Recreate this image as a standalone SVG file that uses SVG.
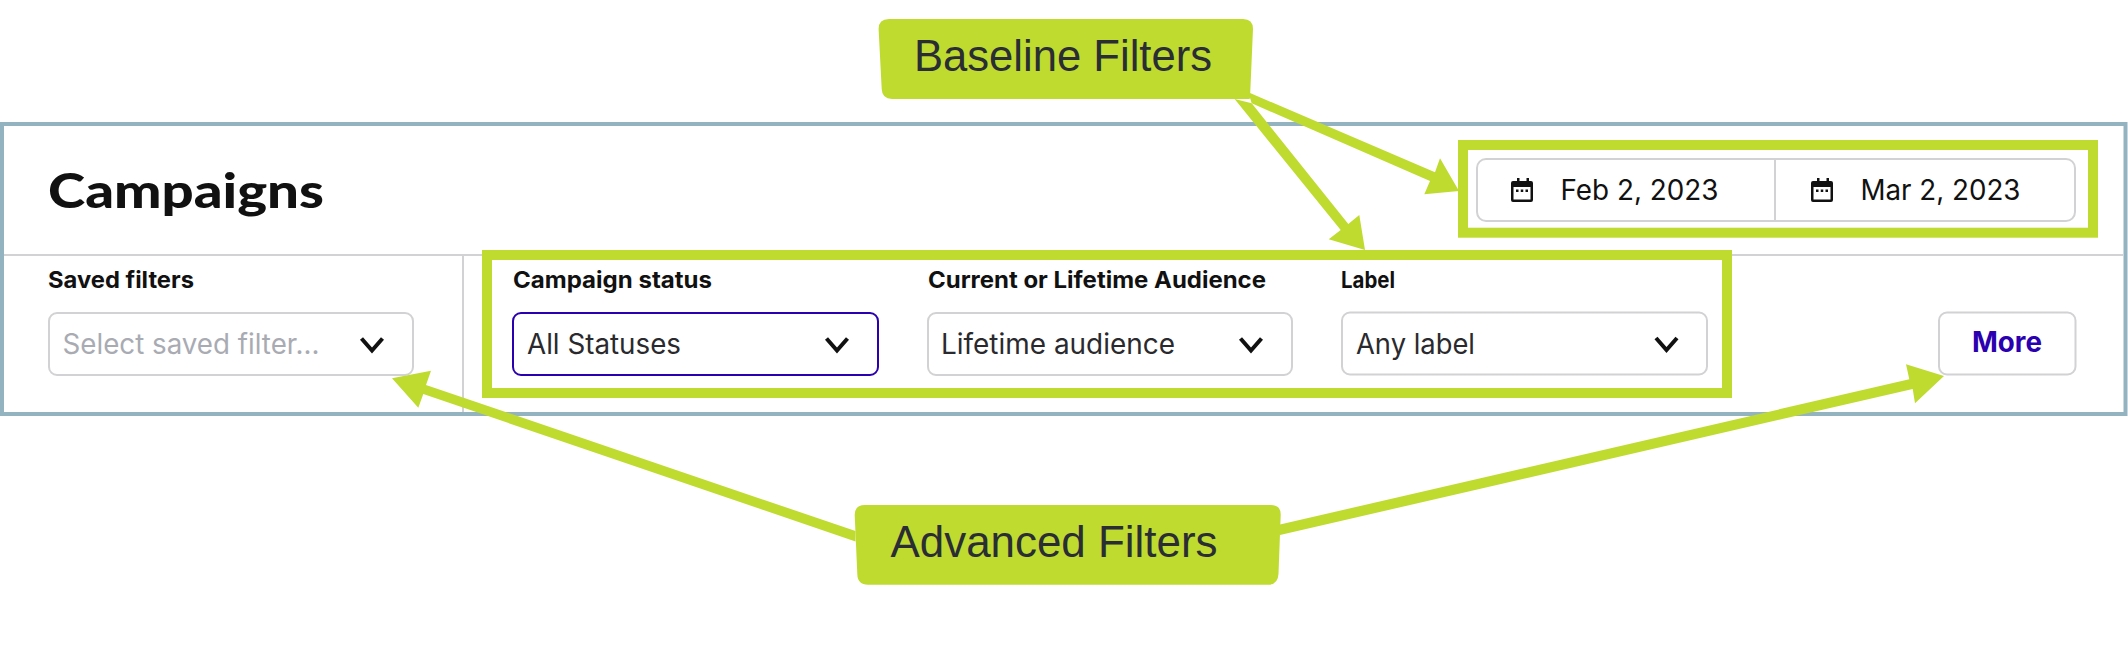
<svg xmlns="http://www.w3.org/2000/svg" width="2128" height="654" viewBox="0 0 2128 654">
<style>
.field{fill:#fff;stroke:#d2d2d4;stroke-width:2}
.rule{stroke:#d2d2d4;stroke-width:2;fill:none}
.lbl{font:700 23px Inter,"Liberation Sans",sans-serif;fill:#111}
.val{font:400 28px Inter,"Liberation Sans",sans-serif;fill:#2a2a2e}
.chev{fill:none;stroke:#111;stroke-width:4}
.hl{fill:none;stroke:#bfdb30;stroke-width:10}
.call{fill:#bfdb30;stroke:#bfdb30;stroke-width:2;stroke-linejoin:round}
.calltxt{font:400 45px "Liberation Sans",Arial,sans-serif;fill:#2a2d34}
.conn{fill:#bfdb30}
.ic{fill:#111}
</style>
<defs>
<g id="cal">
<path class="ic" d="M4 3h3V0h2.500v3h7V0H19v3h2a2 2 0 0 1 2 2v17a2 2 0 0 1-2 2H3a2 2 0 0 1-2-2V5a2 2 0 0 1 2-2z"/>
<rect x="3.500" y="9" width="17" height="12.500" fill="#fff"/>
<rect x="6" y="11.500" width="2.500" height="2.500" class="ic"/><rect x="10.750" y="11.500" width="2.500" height="2.500" class="ic"/><rect x="15.500" y="11.500" width="2.500" height="2.500" class="ic"/>
</g>
<path id="ch" class="chev" d="M-10.500-6 0 6 10.500-6"/>
</defs>
<rect width="2128" height="654" fill="#fff"/>
<g id="panel">
<rect x="2" y="124" width="2123.500" height="290" fill="#fff" stroke="#93b3c0" stroke-width="4"/>
<path class="rule" d="M4 255H2123M463 255V412"/>
<text x="48" y="207.500" textLength="276" lengthAdjust="spacingAndGlyphs" style="font:900 48px Lato,'Liberation Sans',sans-serif;fill:#111">Campaigns</text>
</g>
<g id="date-range">
<rect class="field" x="1477" y="159" width="598" height="62" rx="9"/>
<path class="rule" d="M1775 159V221"/>
<use href="#cal" x="1510" y="178"/>
<text class="val" x="1560.500" y="199.500" textLength="158" lengthAdjust="spacingAndGlyphs" style="fill:#111">Feb 2, 2023</text>
<use href="#cal" x="1810" y="178"/>
<text class="val" x="1860.500" y="199.500" textLength="160" lengthAdjust="spacingAndGlyphs" style="fill:#111">Mar 2, 2023</text>
</g>
<g id="saved-filters">
<text class="lbl" x="48" y="287.500" textLength="146" lengthAdjust="spacingAndGlyphs">Saved filters</text>
<rect class="field" x="49" y="313" width="364" height="62" rx="8"/>
<text class="val" x="62.500" y="354" textLength="257" lengthAdjust="spacingAndGlyphs" style="fill:#a9abb3">Select saved filter...</text>
<use href="#ch" x="372" y="344.500"/>
</g>
<g id="campaign-status">
<text class="lbl" x="513" y="287.500" textLength="199" lengthAdjust="spacingAndGlyphs">Campaign status</text>
<rect x="513" y="313" width="365" height="62" rx="8" fill="#fff" stroke="#2b00b0" stroke-width="2"/>
<text class="val" x="527" y="354" textLength="154" lengthAdjust="spacingAndGlyphs">All Statuses</text>
<use href="#ch" x="837" y="344.500"/>
</g>
<g id="audience">
<text class="lbl" x="928" y="287.500" textLength="338" lengthAdjust="spacingAndGlyphs">Current or Lifetime Audience</text>
<rect class="field" x="928" y="313" width="364" height="62" rx="8"/>
<text class="val" x="941" y="354" textLength="234" lengthAdjust="spacingAndGlyphs">Lifetime audience</text>
<use href="#ch" x="1251" y="344.500"/>
</g>
<g id="label">
<text class="lbl" x="1341" y="287.500" textLength="54" lengthAdjust="spacingAndGlyphs">Label</text>
<rect class="field" x="1342" y="312.500" width="365" height="62" rx="8"/>
<text class="val" x="1356" y="354" textLength="119" lengthAdjust="spacingAndGlyphs">Any label</text>
<use href="#ch" x="1666.500" y="344"/>
</g>
<g id="more">
<rect class="field" x="1939" y="312.500" width="136.500" height="62" rx="8"/>
<text x="1972" y="352.300" textLength="70" lengthAdjust="spacingAndGlyphs" style="font:700 28px Inter,'Liberation Sans',sans-serif;fill:#2b00b0">More</text>
</g>
<g id="highlight-baseline"><rect class="hl" x="1463" y="145" width="630" height="87.700"/></g>
<g id="highlight-advanced"><rect class="hl" x="487" y="255" width="1240" height="138"/></g>
<g id="connectors">
<path class="conn" d="M1248.300 92.300 1435 172.300 1440 158.300 1459 191 1424.300 194.300 1430 181 1251.700 103.300Z"/>
<path class="conn" d="M1234.600 99 1340.700 230 1328.700 239.300 1365 250 1359.300 215 1348.300 224 1251.700 103.300Z"/>
<path class="conn" d="M855.500 531 426 385 431 370.700 392 378.300 418.300 407.700 423.300 394 855.500 541.400Z"/>
<path class="conn" d="M1280 524.500 1909.300 379.300 1906 364.300 1944 376 1915 403.300 1912.700 389 1280 535Z"/>
</g>
<g id="baseline-filters">
<path class="call" d="M889 20H1243Q1252 20 1252 29L1249 98H892Q883 98 882.700 89L879.600 29Q879.600 20 889 20Z"/>
<text class="calltxt" x="914" y="70.700" textLength="298" lengthAdjust="spacingAndGlyphs">Baseline Filters</text>
</g>
<g id="advanced-filters">
<path class="call" d="M865 506H1271Q1280 506 1279.700 515L1277.500 574Q1277 583.700 1268 583.700H868Q858.500 583.700 858.300 574L855.700 515Q855.700 506 865 506Z"/>
<text class="calltxt" x="890.500" y="556.700" textLength="327" lengthAdjust="spacingAndGlyphs">Advanced Filters</text>
</g>
</svg>
